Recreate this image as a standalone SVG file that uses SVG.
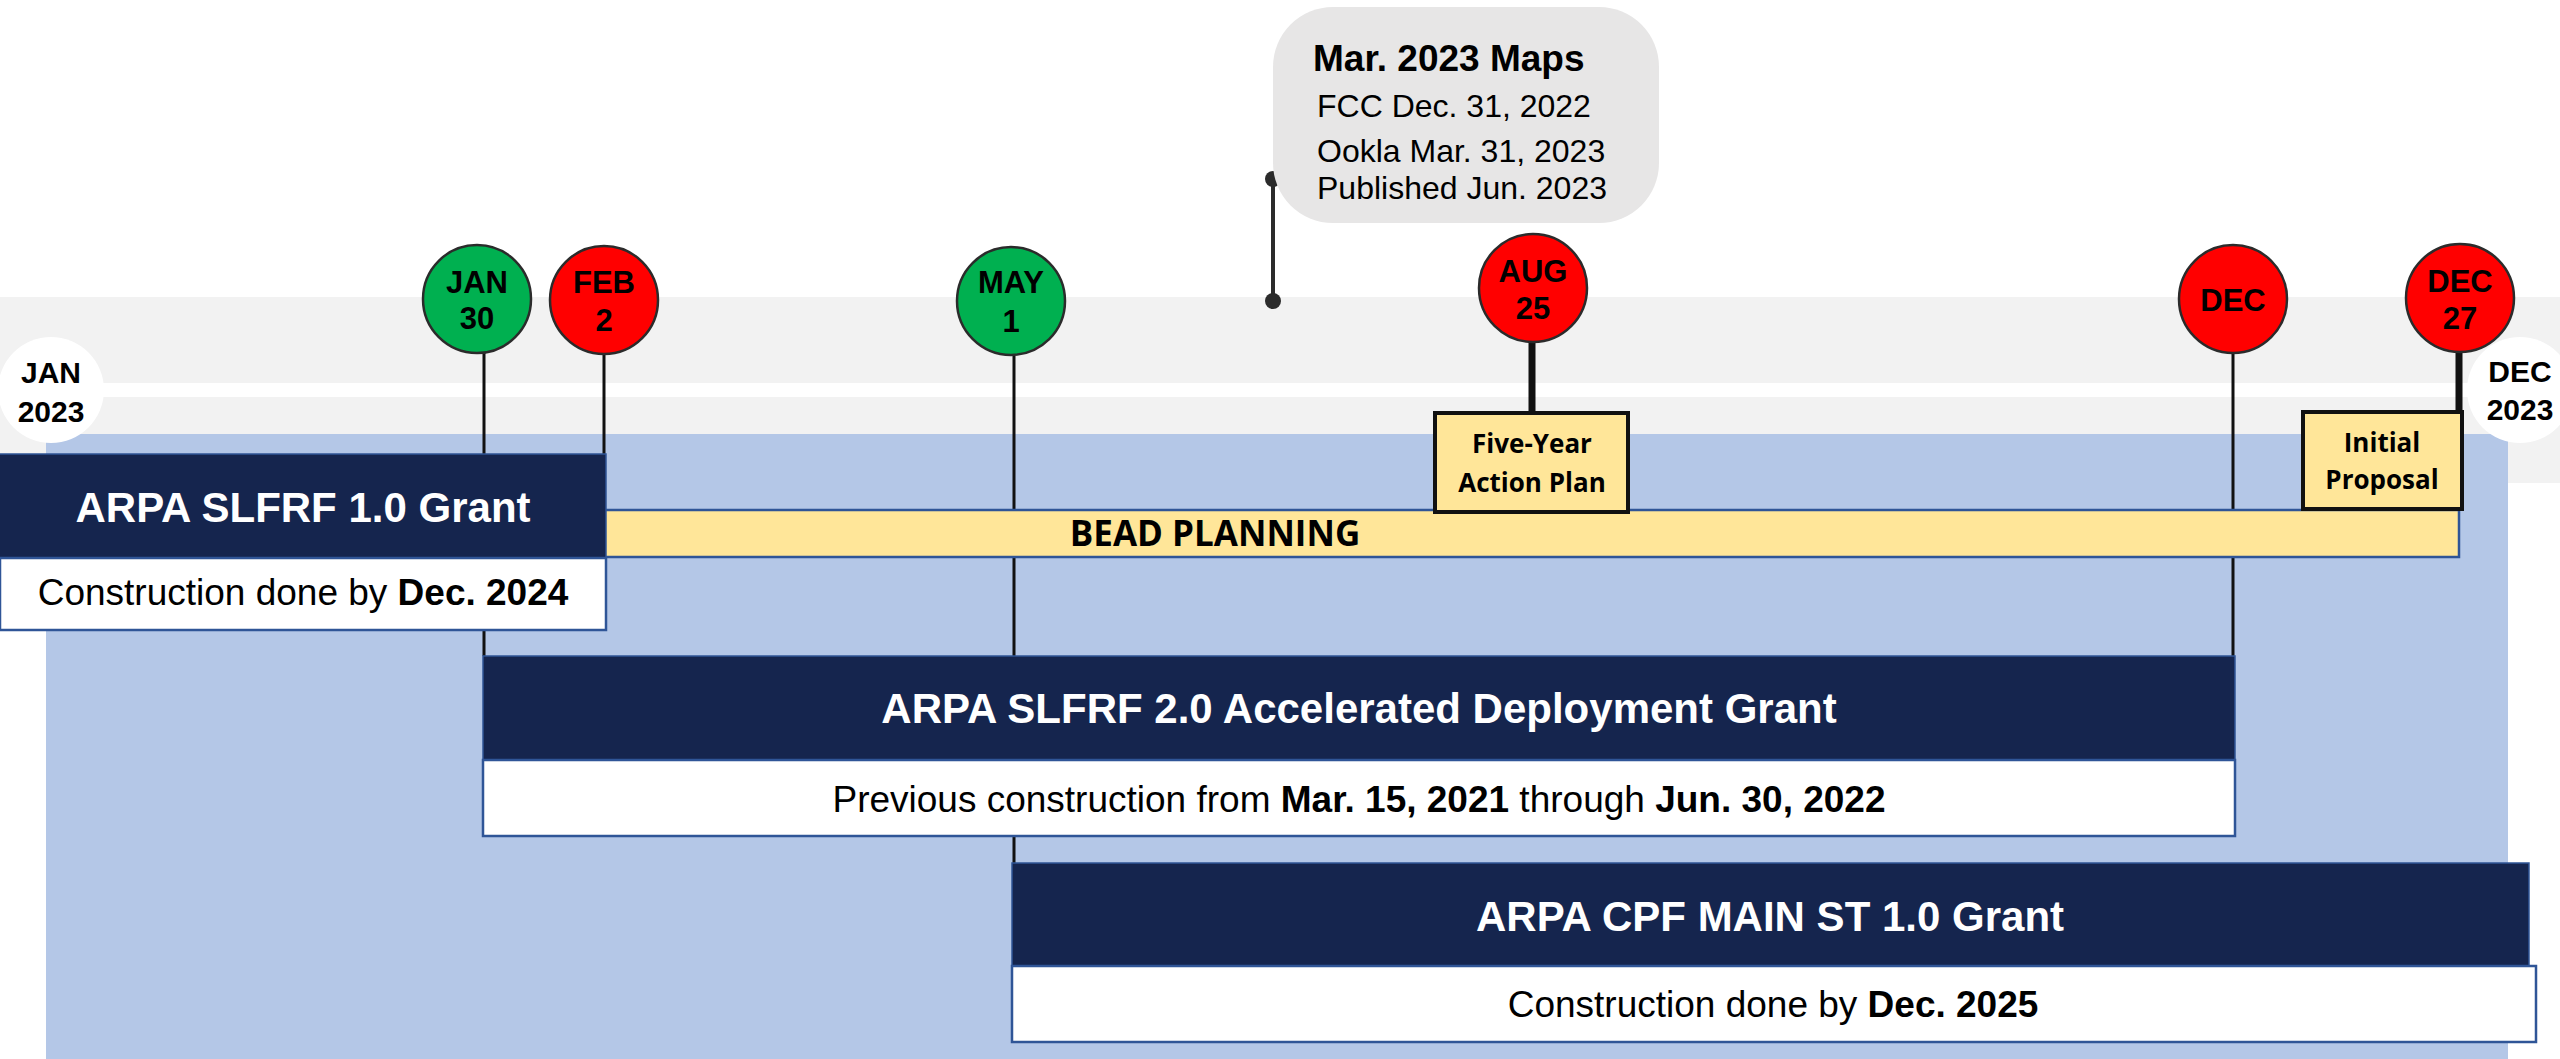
<svg xmlns="http://www.w3.org/2000/svg" width="2560" height="1059" viewBox="0 0 2560 1059">
<style>
.ar{font-family:"Liberation Sans",Arial,sans-serif}
.cal{font-family:"Open Sans","Noto Sans",sans-serif;font-weight:bold}
.ms{stroke:#2b2b2b;stroke-width:2.5}
.g{fill:#00B050}
.r{fill:#FF0000}
.mt{font-family:"Liberation Sans",Arial,sans-serif;font-weight:bold;font-size:31px;fill:#000;text-anchor:middle}
.end{font-family:"Liberation Sans",Arial,sans-serif;font-weight:bold;font-size:30px;fill:#000;text-anchor:middle}
.navy{fill:#15254E;stroke:#2F5597;stroke-width:1.5}
.wb{fill:#fff;stroke:#2F5597;stroke-width:2.5}
.ht{font-family:"Liberation Sans",Arial,sans-serif;font-weight:bold;font-size:42px;fill:#fff;text-anchor:middle}
.st{font-family:"Liberation Sans",Arial,sans-serif;font-size:37px;fill:#000;text-anchor:middle}
.stem{stroke:#111;stroke-width:3;fill:none}
.thick{stroke:#111;stroke-width:7;fill:none}
.yb{fill:#FFE699;stroke:#111;stroke-width:4}
.yt{font-family:"Open Sans","Noto Sans",sans-serif;font-weight:bold;font-size:26px;fill:#000;text-anchor:middle}
</style>

<!-- background bands -->
<g id="background">
  <rect x="0" y="297" width="2560" height="186" fill="#F2F2F2"/>
  <rect x="0" y="383" width="2560" height="14" fill="#FFFFFF"/>
  <rect x="46" y="434" width="2462" height="625" fill="#B4C7E7"/>
</g>

<!-- connectors -->
<g id="connectors">
  <line class="stem" x1="484" y1="353" x2="484" y2="656"/>
  <line class="stem" x1="604" y1="354" x2="604" y2="454"/>
  <line class="stem" x1="1014" y1="356" x2="1014" y2="863"/>
  <line class="stem" x1="2233" y1="353" x2="2233" y2="656"/>
  <line class="thick" x1="1532" y1="340" x2="1532" y2="413"/>
  <line class="thick" x1="2459" y1="350" x2="2459" y2="412"/>
  <line x1="1273" y1="179" x2="1273" y2="301" stroke="#2b2b2b" stroke-width="4"/>
  <circle cx="1273" cy="179" r="8" fill="#2b2b2b"/>
  <circle cx="1273" cy="301" r="8" fill="#2b2b2b"/>
</g>

<!-- timeline ends -->
<g id="start-jan-2023">
  <circle cx="51" cy="390" r="53" fill="#fff"/>
  <text class="end" x="51" y="383">JAN</text>
  <text class="end" x="51" y="422">2023</text>
</g>
<g id="end-dec-2023">
  <circle cx="2520" cy="390" r="53" fill="#fff"/>
  <text class="end" x="2520" y="382">DEC</text>
  <text class="end" x="2520" y="420">2023</text>
</g>

<!-- BEAD planning bar -->
<g id="bead-planning">
  <rect x="600" y="510" width="1859" height="47" fill="#FFE699" stroke="#2F5597" stroke-width="2.5"/>
  <text class="cal" x="1215" y="546" font-size="35" text-anchor="middle" fill="#000">BEAD PLANNING</text>
</g>

<!-- milestone circles -->
<g id="m-jan30">
  <circle class="g ms" cx="477" cy="299" r="54"/>
  <text class="mt" x="477" y="293">JAN</text>
  <text class="mt" x="477" y="329">30</text>
</g>
<g id="m-feb2">
  <circle class="r ms" cx="604" cy="300" r="54"/>
  <text class="mt" x="604" y="293">FEB</text>
  <text class="mt" x="604" y="331">2</text>
</g>
<g id="m-may1">
  <circle class="g ms" cx="1011" cy="301" r="54"/>
  <text class="mt" x="1011" y="293">MAY</text>
  <text class="mt" x="1011" y="332">1</text>
</g>
<g id="m-aug25">
  <circle class="r ms" cx="1533" cy="288" r="54"/>
  <text class="mt" x="1533" y="282">AUG</text>
  <text class="mt" x="1533" y="319">25</text>
</g>
<g id="m-dec">
  <circle class="r ms" cx="2233" cy="299" r="54"/>
  <text class="mt" x="2233" y="311">DEC</text>
</g>
<g id="m-dec27">
  <circle class="r ms" cx="2460" cy="298" r="54"/>
  <text class="mt" x="2460" y="292">DEC</text>
  <text class="mt" x="2460" y="329">27</text>
</g>

<!-- deliverable boxes -->
<g id="five-year-action-plan">
  <rect class="yb" x="1435" y="413" width="193" height="99"/>
  <text class="yt" x="1532" y="453">Five-Year</text>
  <text class="yt" x="1532" y="492">Action Plan</text>
</g>
<g id="initial-proposal">
  <rect class="yb" x="2303" y="412" width="159" height="97"/>
  <text class="yt" x="2382" y="452">Initial</text>
  <text class="yt" x="2382" y="489">Proposal</text>
</g>

<!-- map bubble -->
<g id="mar-2023-maps">
  <rect x="1273" y="7" width="386" height="216" rx="60" ry="60" fill="#E7E6E6"/>
  <text class="ar" x="1313" y="71" font-size="37" font-weight="bold" fill="#000">Mar. 2023 Maps</text>
  <text class="ar" x="1317" y="117" font-size="32" fill="#000">FCC Dec. 31, 2022</text>
  <text class="ar" x="1317" y="162" font-size="32" fill="#000">Ookla Mar. 31, 2023</text>
  <text class="ar" x="1317" y="199" font-size="32" fill="#000">Published Jun. 2023</text>
</g>

<!-- grants -->
<g id="arpa-slfrf-1">
  <rect class="navy" x="-2" y="454" width="608" height="104"/>
  <rect class="wb" x="0" y="558" width="606" height="72"/>
  <text class="ht" x="303" y="522">ARPA SLFRF 1.0 Grant</text>
  <text class="st" x="303" y="605">Construction done by <tspan font-weight="bold">Dec. 2024</tspan></text>
</g>
<g id="arpa-slfrf-2">
  <rect class="navy" x="483" y="656" width="1752" height="104"/>
  <rect class="wb" x="483" y="760" width="1752" height="76"/>
  <text class="ht" x="1359" y="723">ARPA SLFRF 2.0 Accelerated Deployment Grant</text>
  <text class="st" x="1359" y="812">Previous construction from <tspan font-weight="bold">Mar. 15, 2021</tspan> through <tspan font-weight="bold">Jun. 30, 2022</tspan></text>
</g>
<g id="arpa-cpf-main-st">
  <rect class="navy" x="1012" y="863" width="1517" height="103"/>
  <rect class="wb" x="1012" y="966" width="1524" height="76"/>
  <text class="ht" x="1770" y="931">ARPA CPF MAIN ST 1.0 Grant</text>
  <text class="st" x="1773" y="1017">Construction done by <tspan font-weight="bold">Dec. 2025</tspan></text>
</g>
</svg>
